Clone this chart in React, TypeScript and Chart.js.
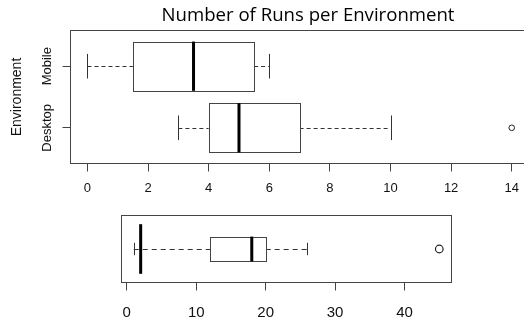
import React, { useEffect, useRef } from 'react';
import { Chart, registerables } from 'chart.js';

Chart.register(...registerables);

// ---------- data ----------
const chartTitle = 'Number of Runs per Environment';
const yAxisTitle = 'Environment';

const envCategories = ['Mobile', 'Desktop'];
const envPositions = [2, 1];
const envWhiskerLow = [0, 3];
const envQ1 = [1.5, 4];
const envMedian = [3.5, 5];
const envQ3 = [5.5, 7];
const envWhiskerHigh = [6, 10];
const envOutliers = [[], [14]];
const envXTicks = [0, 2, 4, 6, 8, 10, 12, 14];

const runsPositions = [1, 1];
const runsWhiskerLow = [1, 2];
const runsQ1 = [12, 2];
const runsMedian = [18, 2];
const runsQ3 = [20, 2];
const runsWhiskerHigh = [26, 2];
const runsBoxWidths = [0.4, 0.8];
const runsOutliers = [[45], []];
const runsXTicks = [0, 10, 20, 30, 40];

const LABEL_FONT = '"Liberation Sans", Arial, sans-serif';

type BoxSet = {
  pos: number[];
  low: number[];
  q1: number[];
  med: number[];
  q3: number[];
  high: number[];
  widths: number[];
  dash: number[];
};

function boxPlugin(id: string, boxes: BoxSet) {
  return {
    id,
    beforeDatasetsDraw(chart: any) {
      const { ctx, chartArea, scales } = chart;
      const xs = scales.x;
      const ys = scales.y;
      ctx.save();
      // frame
      ctx.strokeStyle = '#444';
      ctx.lineWidth = 1;
      ctx.strokeRect(chartArea.left, chartArea.top, chartArea.right - chartArea.left, chartArea.bottom - chartArea.top);
      for (let i = 0; i < boxes.pos.length; i++) {
        const yc = ys.getPixelForValue(boxes.pos[i]);
        const half = Math.abs(ys.getPixelForValue(boxes.pos[i] + boxes.widths[i] / 2) - yc);
        const cap = half / 2;
        const xl = xs.getPixelForValue(boxes.low[i]);
        const x1 = xs.getPixelForValue(boxes.q1[i]);
        const xm = xs.getPixelForValue(boxes.med[i]);
        const x3 = xs.getPixelForValue(boxes.q3[i]);
        const xh = xs.getPixelForValue(boxes.high[i]);
        const yr = Math.round(yc) + 0.5;
        // whiskers (dashed)
        ctx.strokeStyle = '#333';
        ctx.lineWidth = 1;
        ctx.setLineDash(boxes.dash);
        ctx.beginPath();
        ctx.moveTo(xl, yr);
        ctx.lineTo(x1, yr);
        ctx.moveTo(x3, yr);
        ctx.lineTo(xh, yr);
        ctx.stroke();
        ctx.setLineDash([]);
        // caps
        ctx.beginPath();
        ctx.moveTo(Math.round(xl) + 0.5, yc - cap);
        ctx.lineTo(Math.round(xl) + 0.5, yc + cap);
        ctx.moveTo(Math.round(xh) + 0.5, yc - cap);
        ctx.lineTo(Math.round(xh) + 0.5, yc + cap);
        ctx.stroke();
        // box
        if (x3 - x1 > 0.5) {
          const bx = Math.round(x1) + 0.5;
          const bw = Math.round(x3) - Math.round(x1);
          const by = Math.round(yc - half) + 0.5;
          const bh = Math.round(yc + half) - Math.round(yc - half);
          ctx.fillStyle = '#fff';
          ctx.fillRect(bx, by, bw, bh);
          ctx.strokeStyle = '#444';
          ctx.strokeRect(bx, by, bw, bh);
        }
        // median
        ctx.strokeStyle = '#000';
        ctx.lineWidth = 3;
        ctx.beginPath();
        ctx.moveTo(xm, yc - half);
        ctx.lineTo(xm, yc + half);
        ctx.stroke();
      }
      ctx.restore();
    },
  };
}

const topLabelsPlugin = {
  id: 'topLabels',
  afterDraw(chart: any) {
    const { ctx, scales } = chart;
    ctx.save();
    ctx.fillStyle = '#111';
    ctx.font = `13px ${LABEL_FONT}`;
    ctx.textAlign = 'center';
    ctx.textBaseline = 'middle';
    envCategories.forEach((label, i) => {
      const y = scales.y.getPixelForValue(envPositions[i]);
      ctx.save();
      ctx.translate(47.5, y);
      ctx.rotate(-Math.PI / 2);
      ctx.fillText(label, 0, 0);
      ctx.restore();
    });
    ctx.fillStyle = '#000';
    ctx.font = '18.6px "Open Sans", sans-serif';
    ctx.fillText(chartTitle, 308, 16);
    ctx.restore();
  },
};

function axisX(min: number, max: number, ticks: number[], height: number, padding: number, size: number) {
  return {
    type: 'linear' as const,
    min,
    max,
    afterBuildTicks: (s: any) => {
      s.ticks = ticks.map((v) => ({ value: v }));
    },
    afterFit: (s: any) => {
      s.height = height;
    },
    grid: { drawOnChartArea: false, drawTicks: true, tickLength: 8, color: '#444', lineWidth: 1 },
    border: { display: false },
    ticks: {
      font: { family: LABEL_FONT, size },
      color: '#111',
      padding,
      maxRotation: 0,
      autoSkip: false,
    },
  };
}

export default function App() {
  const topRef = useRef<HTMLCanvasElement>(null);
  const botRef = useRef<HTMLCanvasElement>(null);

  useEffect(() => {
    const topOutliers: { x: number; y: number }[] = [];
    envOutliers.forEach((arr, i) => arr.forEach((v) => topOutliers.push({ x: v, y: envPositions[i] })));
    const botOutliers: { x: number; y: number }[] = [];
    runsOutliers.forEach((arr, i) => arr.forEach((v) => botOutliers.push({ x: v, y: runsPositions[i] })));

    const top = new Chart(topRef.current as HTMLCanvasElement, {
      type: 'scatter',
      data: {
        datasets: [
          {
            data: topOutliers,
            pointRadius: 2.8,
            pointBorderWidth: 1,
            borderColor: '#222',
            backgroundColor: 'rgba(0,0,0,0)',
          },
        ],
      },
      options: {
        animation: false,
        responsive: false,
        maintainAspectRatio: false,
        layout: { padding: { top: 30.5, right: 11.3, left: 0, bottom: 0 } },
        plugins: { legend: { display: false }, tooltip: { enabled: false }, title: { display: false } },
        scales: {
          x: axisX(-0.56, 14.56, envXTicks, 36.5, 9, 13),
          y: {
            type: 'linear',
            min: 0.42,
            max: 2.58,
            afterBuildTicks: (s: any) => {
              s.ticks = envPositions.map((v) => ({ value: v }));
            },
            afterFit: (s: any) => {
              s.width = 70.5;
            },
            grid: { drawOnChartArea: false, drawTicks: true, tickLength: 8, color: '#444' },
            border: { display: false },
            ticks: { display: false },
            title: {
              display: true,
              text: yAxisTitle,
              color: '#111',
              font: { family: LABEL_FONT, size: 14 },
              padding: { top: 9, bottom: 0 },
            },
          },
        },
      },
      plugins: [
        boxPlugin('topBoxes', {
          pos: envPositions,
          low: envWhiskerLow,
          q1: envQ1,
          med: envMedian,
          q3: envQ3,
          high: envWhiskerHigh,
          widths: envPositions.map(() => 0.8),
          dash: [4, 3],
        }),
        topLabelsPlugin,
      ],
    });

    const bot = new Chart(botRef.current as HTMLCanvasElement, {
      type: 'scatter',
      data: {
        datasets: [
          {
            data: botOutliers,
            pointRadius: 3.8,
            pointBorderWidth: 1.2,
            borderColor: '#222',
            backgroundColor: 'rgba(0,0,0,0)',
          },
        ],
      },
      options: {
        animation: false,
        responsive: false,
        maintainAspectRatio: false,
        layout: { padding: { top: 25.5, right: 72.5, left: 121.5, bottom: 0 } },
        plugins: { legend: { display: false }, tooltip: { enabled: false }, title: { display: false } },
        scales: {
          x: axisX(-0.76, 46.76, runsXTicks, 39.5, 13, 15),
          y: { type: 'linear', display: false, min: 0.46, max: 1.54 },
        },
      },
      plugins: [
        boxPlugin('botBoxes', {
          pos: runsPositions,
          low: runsWhiskerLow,
          q1: runsQ1,
          med: runsMedian,
          q3: runsQ3,
          high: runsWhiskerHigh,
          widths: runsBoxWidths,
          dash: [5, 4],
        }),
      ],
    });

    return () => {
      top.destroy();
      bot.destroy();
    };
  }, []);

  return (
    <div
      style={{
        position: 'absolute',
        left: 0,
        top: 0,
        width: 524,
        height: 322,
        overflow: 'hidden',
        background: '#fff',
      }}
    >
      <canvas ref={topRef} width={540} height={200} style={{ position: 'absolute', left: 0, top: 0, width: 540, height: 200 }} />
      <canvas ref={botRef} width={524} height={132} style={{ position: 'absolute', left: 0, top: 190, width: 524, height: 132 }} />
    </div>
  );
}
